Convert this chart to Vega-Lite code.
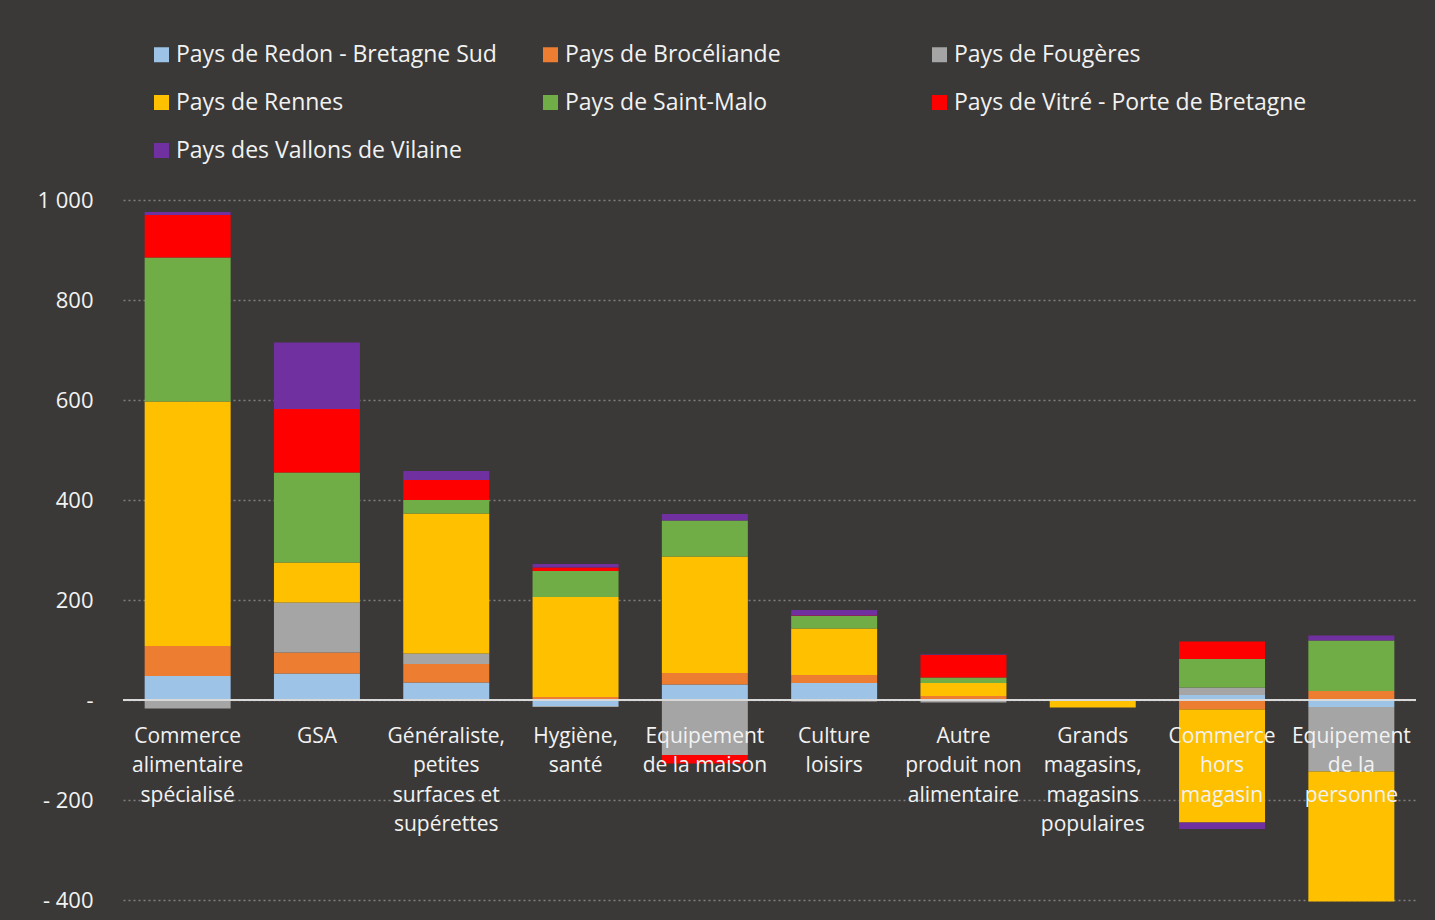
{
  "$schema": "https://vega.github.io/schema/vega-lite/v6.json",
  "width": 1293,
  "height": 700,
  "autosize": {"type": "none"},
  "padding": {"left": 123, "top": 200, "right": 19, "bottom": 20},
  "background": "#3b3937",
  "config": {"view": {"stroke": null}, "font": "Open Sans"},
  "data": {"values": [
    {"cat": "Commerce|alimentaire|spécialisé", "region": "Pays de Redon - Bretagne Sud", "k": 1, "value": 48},
    {"cat": "Commerce|alimentaire|spécialisé", "region": "Pays de Brocéliande", "k": 2, "value": 60},
    {"cat": "Commerce|alimentaire|spécialisé", "region": "Pays de Fougères", "k": 3, "value": -17},
    {"cat": "Commerce|alimentaire|spécialisé", "region": "Pays de Rennes", "k": 4, "value": 489},
    {"cat": "Commerce|alimentaire|spécialisé", "region": "Pays de Saint-Malo", "k": 5, "value": 288},
    {"cat": "Commerce|alimentaire|spécialisé", "region": "Pays de Vitré - Porte de Bretagne", "k": 6, "value": 85},
    {"cat": "Commerce|alimentaire|spécialisé", "region": "Pays des Vallons de Vilaine", "k": 7, "value": 6},
    {"cat": "GSA", "region": "Pays de Redon - Bretagne Sud", "k": 1, "value": 53},
    {"cat": "GSA", "region": "Pays de Brocéliande", "k": 2, "value": 42},
    {"cat": "GSA", "region": "Pays de Fougères", "k": 3, "value": 100},
    {"cat": "GSA", "region": "Pays de Rennes", "k": 4, "value": 80},
    {"cat": "GSA", "region": "Pays de Saint-Malo", "k": 5, "value": 180},
    {"cat": "GSA", "region": "Pays de Vitré - Porte de Bretagne", "k": 6, "value": 127},
    {"cat": "GSA", "region": "Pays des Vallons de Vilaine", "k": 7, "value": 133},
    {"cat": "Généraliste,|petites|surfaces et|supérettes", "region": "Pays de Redon - Bretagne Sud", "k": 1, "value": 35},
    {"cat": "Généraliste,|petites|surfaces et|supérettes", "region": "Pays de Brocéliande", "k": 2, "value": 37},
    {"cat": "Généraliste,|petites|surfaces et|supérettes", "region": "Pays de Fougères", "k": 3, "value": 21},
    {"cat": "Généraliste,|petites|surfaces et|supérettes", "region": "Pays de Rennes", "k": 4, "value": 280},
    {"cat": "Généraliste,|petites|surfaces et|supérettes", "region": "Pays de Saint-Malo", "k": 5, "value": 27},
    {"cat": "Généraliste,|petites|surfaces et|supérettes", "region": "Pays de Vitré - Porte de Bretagne", "k": 6, "value": 40},
    {"cat": "Généraliste,|petites|surfaces et|supérettes", "region": "Pays des Vallons de Vilaine", "k": 7, "value": 18},
    {"cat": "Hygiène,|santé", "region": "Pays de Redon - Bretagne Sud", "k": 1, "value": -12},
    {"cat": "Hygiène,|santé", "region": "Pays de Brocéliande", "k": 2, "value": 6},
    {"cat": "Hygiène,|santé", "region": "Pays de Fougères", "k": 3, "value": -2},
    {"cat": "Hygiène,|santé", "region": "Pays de Rennes", "k": 4, "value": 200},
    {"cat": "Hygiène,|santé", "region": "Pays de Saint-Malo", "k": 5, "value": 52},
    {"cat": "Hygiène,|santé", "region": "Pays de Vitré - Porte de Bretagne", "k": 6, "value": 7},
    {"cat": "Hygiène,|santé", "region": "Pays des Vallons de Vilaine", "k": 7, "value": 7},
    {"cat": "Equipement|de la maison", "region": "Pays de Redon - Bretagne Sud", "k": 1, "value": 31},
    {"cat": "Equipement|de la maison", "region": "Pays de Brocéliande", "k": 2, "value": 23},
    {"cat": "Equipement|de la maison", "region": "Pays de Fougères", "k": 3, "value": -110},
    {"cat": "Equipement|de la maison", "region": "Pays de Rennes", "k": 4, "value": 233},
    {"cat": "Equipement|de la maison", "region": "Pays de Saint-Malo", "k": 5, "value": 72},
    {"cat": "Equipement|de la maison", "region": "Pays de Vitré - Porte de Bretagne", "k": 6, "value": -17},
    {"cat": "Equipement|de la maison", "region": "Pays des Vallons de Vilaine", "k": 7, "value": 13},
    {"cat": "Culture|loisirs", "region": "Pays de Redon - Bretagne Sud", "k": 1, "value": 34},
    {"cat": "Culture|loisirs", "region": "Pays de Brocéliande", "k": 2, "value": 16},
    {"cat": "Culture|loisirs", "region": "Pays de Fougères", "k": 3, "value": -3},
    {"cat": "Culture|loisirs", "region": "Pays de Rennes", "k": 4, "value": 93},
    {"cat": "Culture|loisirs", "region": "Pays de Saint-Malo", "k": 5, "value": 25},
    {"cat": "Culture|loisirs", "region": "Pays de Vitré - Porte de Bretagne", "k": 6, "value": 1},
    {"cat": "Culture|loisirs", "region": "Pays des Vallons de Vilaine", "k": 7, "value": 11},
    {"cat": "Autre|produit non|alimentaire", "region": "Pays de Brocéliande", "k": 2, "value": 8},
    {"cat": "Autre|produit non|alimentaire", "region": "Pays de Fougères", "k": 3, "value": -5},
    {"cat": "Autre|produit non|alimentaire", "region": "Pays de Rennes", "k": 4, "value": 26},
    {"cat": "Autre|produit non|alimentaire", "region": "Pays de Saint-Malo", "k": 5, "value": 11},
    {"cat": "Autre|produit non|alimentaire", "region": "Pays de Vitré - Porte de Bretagne", "k": 6, "value": 45},
    {"cat": "Autre|produit non|alimentaire", "region": "Pays des Vallons de Vilaine", "k": 7, "value": 1},
    {"cat": "Grands|magasins,|magasins|populaires", "region": "Pays de Rennes", "k": 4, "value": -15},
    {"cat": "Commerce|hors|magasin", "region": "Pays de Redon - Bretagne Sud", "k": 1, "value": 10},
    {"cat": "Commerce|hors|magasin", "region": "Pays de Brocéliande", "k": 2, "value": -19},
    {"cat": "Commerce|hors|magasin", "region": "Pays de Fougères", "k": 3, "value": 15},
    {"cat": "Commerce|hors|magasin", "region": "Pays de Rennes", "k": 4, "value": -226},
    {"cat": "Commerce|hors|magasin", "region": "Pays de Saint-Malo", "k": 5, "value": 57},
    {"cat": "Commerce|hors|magasin", "region": "Pays de Vitré - Porte de Bretagne", "k": 6, "value": 35},
    {"cat": "Commerce|hors|magasin", "region": "Pays des Vallons de Vilaine", "k": 7, "value": -13},
    {"cat": "Equipement|de la|personne", "region": "Pays de Redon - Bretagne Sud", "k": 1, "value": -14},
    {"cat": "Equipement|de la|personne", "region": "Pays de Brocéliande", "k": 2, "value": 18},
    {"cat": "Equipement|de la|personne", "region": "Pays de Fougères", "k": 3, "value": -129},
    {"cat": "Equipement|de la|personne", "region": "Pays de Rennes", "k": 4, "value": -260},
    {"cat": "Equipement|de la|personne", "region": "Pays de Saint-Malo", "k": 5, "value": 101},
    {"cat": "Equipement|de la|personne", "region": "Pays des Vallons de Vilaine", "k": 7, "value": 10}
  ]},
  "layer": [
    {
      "mark": {"type": "bar"},
      "encoding": {
        "x": {
          "field": "cat", "type": "nominal", "sort": null,
          "scale": {"paddingInner": 0.335, "paddingOuter": 0.1675},
          "axis": {
            "orient": "bottom", "offset": -175, "labelPadding": 0,
            "domain": false, "ticks": false, "grid": false, "title": null,
            "labelAngle": 0, "labelFontSize": 21, "labelColor": "#f2f2f2",
            "labelFont": "Open Sans", "labelLineHeight": 29.5,
            "labelExpr": "split(datum.value, '|')", "labelOverlap": false,
            "labelLimit": 0, "zindex": 1
          }
        },
        "y": {
          "field": "value", "type": "quantitative", "stack": "zero",
          "scale": {"domain": [-400, 1000], "nice": false},
          "axis": {
            "values": [-400, -200, 0, 200, 400, 600, 800, 1000],
            "labelExpr": "datum.value == 0 ? '-' : (datum.value < 0 ? '- ' : '') + replace(format(abs(datum.value), ','), ',', ' ')",
            "domain": false, "ticks": false, "grid": true,
            "gridColor": "#808080", "gridDash": [2, 3], "gridWidth": 1.5,
            "labelFontSize": 22, "labelColor": "#f2f2f2", "labelFont": "Open Sans",
            "labelPadding": 30, "title": null, "zindex": 0
          }
        },
        "color": {
          "field": "region", "type": "nominal",
          "scale": {
            "domain": ["Pays de Redon - Bretagne Sud", "Pays de Brocéliande", "Pays de Fougères", "Pays de Rennes", "Pays de Saint-Malo", "Pays de Vitré - Porte de Bretagne", "Pays des Vallons de Vilaine"],
            "range": ["#9dc3e6", "#ed7d31", "#a5a5a5", "#ffc000", "#70ad47", "#ff0000", "#7030a0"]
          },
          "legend": {
            "orient": "none", "legendX": 27, "legendY": -157,
            "direction": "horizontal", "columns": 3, "gridAlign": "all",
            "title": null, "symbolType": "square", "symbolSize": 225,
            "symbolStrokeWidth": 0, "labelFontSize": 23, "labelColor": "#f2f2f2",
            "labelFont": "Open Sans", "labelOffset": 3, "labelLimit": 0,
            "columnPadding": 10, "rowPadding": 24
          }
        },
        "order": {"field": "k", "type": "quantitative"}
      }
    },
    {
      "mark": {"type": "rule", "color": "#d9d9d9", "strokeWidth": 2},
      "encoding": {"y": {"datum": 0}}
    }
  ]
}
